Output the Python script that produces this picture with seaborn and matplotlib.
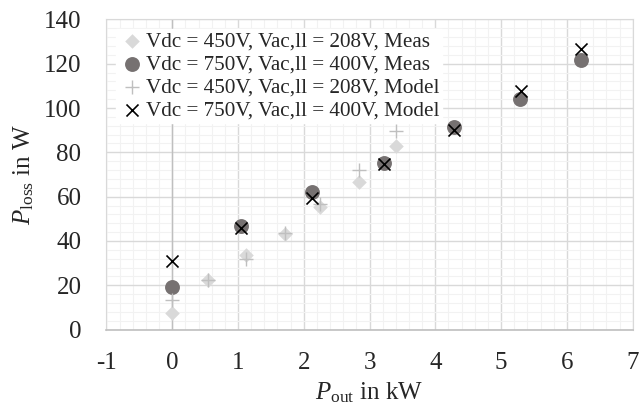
import numpy as np
import pandas as pd
import matplotlib
matplotlib.use("Agg")
import matplotlib.pyplot as plt
import seaborn as sns
from matplotlib.ticker import MultipleLocator

p450_meas_x = [0.0, 0.55, 1.12, 1.71, 2.25, 2.84, 3.40]
p450_meas_y = [7.5, 22.3, 33.5, 43.3, 55.1, 66.6, 83.0]
p750_meas_x = [0.0, 1.05, 2.13, 3.22, 4.29, 5.28, 6.22]
p750_meas_y = [19.2, 46.6, 62.1, 75.4, 91.5, 104.0, 121.6]
p450_model_x = [0.0, 0.55, 1.12, 1.71, 2.25, 2.84, 3.40]
p450_model_y = [13.2, 22.3, 32.0, 43.5, 56.9, 71.9, 89.6]
p750_model_x = [0.0, 1.05, 2.13, 3.22, 4.29, 5.30, 6.22]
p750_model_y = [30.8, 45.9, 59.4, 74.6, 90.0, 107.7, 126.5]

labels = ["Vdc = 450V, Vac,ll = 208V, Meas",
          "Vdc = 750V, Vac,ll = 400V, Meas",
          "Vdc = 450V, Vac,ll = 208V, Model",
          "Vdc = 750V, Vac,ll = 400V, Model"]

series = [(p450_meas_x, p450_meas_y), (p750_meas_x, p750_meas_y),
          (p450_model_x, p450_model_y), (p750_model_x, p750_model_y)]
frames = []
for lab, (xs, ys) in zip(labels, series):
    frames.append(pd.DataFrame({"x": xs, "y": ys, "series": lab}))
df = pd.concat(frames, ignore_index=True)

sns.set_style("white")
plt.rcParams["font.family"] = ["Liberation Serif", "DejaVu Serif"]
plt.rcParams["mathtext.fontset"] = "custom"
plt.rcParams["mathtext.rm"] = "Liberation Serif"
plt.rcParams["mathtext.it"] = "Liberation Serif:italic"
plt.rcParams["axes.unicode_minus"] = False

fig = plt.figure(figsize=(6.41, 4.12), dpi=100)
ax = fig.add_axes([0.166, 0.20, 0.821, 0.753])

styles = {
    labels[0]: dict(marker="D", color="#d9d9d9", s=55, linewidth=0),
    labels[1]: dict(marker="o", color="#767171", s=115, linewidth=0),
    labels[2]: dict(marker="+", color="#bfbfbf", s=100, linewidth=1.0),
    labels[3]: dict(marker="x", color="black", s=75, linewidth=1.2),
}
for lab in labels:
    sub = df[df["series"] == lab]
    st = styles[lab]
    sns.scatterplot(data=sub, x="x", y="y", ax=ax, marker=st["marker"],
                    color=st["color"], s=st["s"], linewidth=st["linewidth"],
                    edgecolor=st["color"] if st["marker"] in "Do" else None,
                    label=lab, zorder=3)

ax.set_xlim(-1, 7)
ax.set_ylim(0, 140)
ax.xaxis.set_major_locator(MultipleLocator(1))
ax.xaxis.set_minor_locator(MultipleLocator(0.2))
ax.yaxis.set_major_locator(MultipleLocator(20))
ax.yaxis.set_minor_locator(MultipleLocator(4))
ax.grid(which="major", color="#d9d9d9", linewidth=1.0)
ax.grid(which="minor", color="#f2f2f2", linewidth=0.8)
ax.set_axisbelow(True)
ax.axvline(0, color="#bfbfbf", linewidth=1.0, zorder=1)
for s in ["top", "right", "left"]:
    ax.spines[s].set_color("#d9d9d9")
ax.spines["bottom"].set_color("#bfbfbf")
ax.spines["bottom"].set_linewidth(1.2)
ax.tick_params(axis="both", which="both", length=0, labelsize=18)
ax.tick_params(axis="x", pad=16)
ax.tick_params(axis="y", pad=18)

ax.set_xlabel(r"$P_{\rm out}$ in kW", fontsize=18, labelpad=5)
ax.set_ylabel(r"$P_{\rm loss}$ in W", fontsize=18, labelpad=6)

leg = ax.legend(loc="upper left", fontsize=15.2, frameon=True, fancybox=False,
                edgecolor="white", framealpha=1, handletextpad=0.0,
                borderpad=0.12, labelspacing=0.16, handlelength=1.3,
                borderaxespad=0.45)
leg.set_zorder(5)

fig.savefig("out.png", dpi=100)
